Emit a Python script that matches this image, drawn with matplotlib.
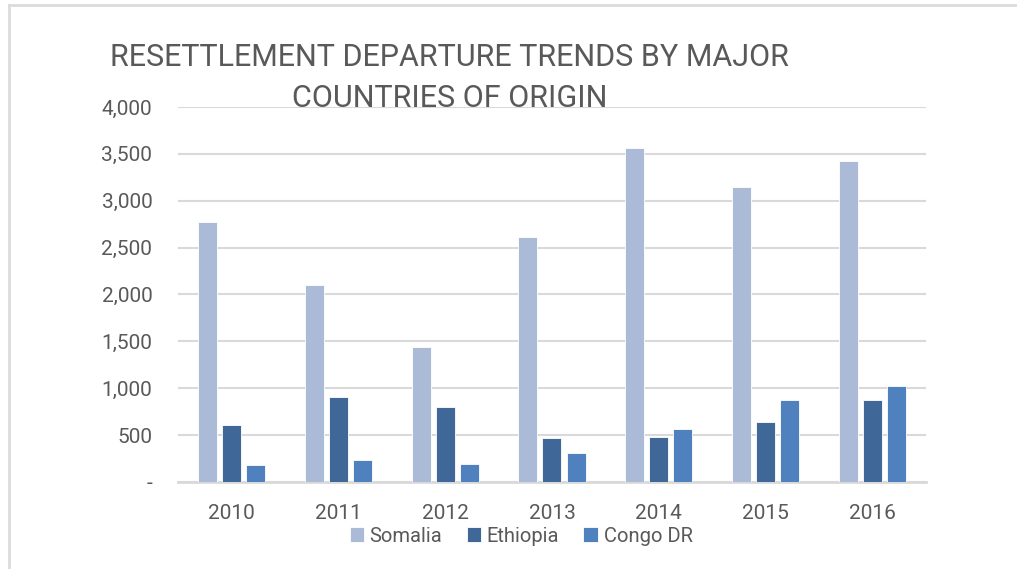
import matplotlib
matplotlib.use("Agg")
import matplotlib.pyplot as plt
import numpy as np
from matplotlib.ticker import FuncFormatter

# Resettlement departures by year and country of origin
years = ['2010', '2011', '2012', '2013', '2014', '2015', '2016']
somalia = [2777, 2101, 1440, 2613, 3563, 3143, 3427]
ethiopia = [606, 905, 803, 466, 480, 643, 871]
congo_dr = [178, 235, 192, 309, 562, 871, 1024]

series = ['Somalia', 'Ethiopia', 'Congo DR']
colors = ['#AABAD7', '#3F6899', '#4E81BD']

title_lines = ['RESETTLEMENT DEPARTURE TRENDS BY MAJOR', 'COUNTRIES OF ORIGIN']

plt.rcParams['font.family'] = ['Roboto', 'DejaVu Sans']
text_color = '#595959'
grid_color = '#D9D9D9'

fig = plt.figure(figsize=(10.17, 5.69), dpi=100)
ax = fig.add_axes([0.175, 0.153, 0.7355, 0.659])

x = np.arange(len(years))
width = 0.178
step = 0.225
for i, (name, vals) in enumerate(zip(series, [somalia, ethiopia, congo_dr])):
    ax.bar(x + (i - 1) * step, vals, width, color=colors[i], label=name,
           edgecolor='white', linewidth=0.6, zorder=3)

ax.set_xlim(-0.5, len(years) - 0.5)
ax.set_ylim(0, 4000)
ax.set_yticks(np.arange(0, 4001, 500))
ax.yaxis.set_major_formatter(FuncFormatter(lambda v, p: '-' if v == 0 else f'{v:,.0f}'))
ax.set_xticks(x)
ax.set_xticklabels(years)

ax.grid(axis='y', color=grid_color, linewidth=1.5, zorder=0)
for s in ['left', 'right', 'top']:
    ax.spines[s].set_visible(False)
ax.spines['bottom'].set_color(grid_color)
ax.spines['bottom'].set_linewidth(2)
ax.tick_params(axis='both', length=0, labelsize=15, colors=text_color)
ax.tick_params(axis='x', pad=16)
ax.tick_params(axis='y', pad=18.5)

ax.legend(loc='center', bbox_to_anchor=(521 / 1017, 1 - 536 / 569),
          bbox_transform=fig.transFigure, ncol=3, frameon=False,
          fontsize=14.5, labelcolor=text_color, handlelength=0.7,
          handleheight=0.7, handletextpad=0.3, columnspacing=1.2)

title_font = ['Roboto', 'DejaVu Sans']
fig.text(449 / 1017, 1 - 66 / 569, title_lines[0], ha='center', va='baseline',
         fontsize=22, color=text_color, family=title_font)
fig.text(450 / 1017, 1 - 107 / 569, title_lines[1], ha='center', va='baseline',
         fontsize=22, color=text_color, family=title_font)

# light frame at top and left of the screenshot
fig.add_artist(plt.Line2D([9 / 1017, 1], [1 - 5 / 569] * 2, color='#DCDCDC', linewidth=2))
fig.add_artist(plt.Line2D([9 / 1017] * 2, [0, 1 - 5 / 569], color='#DCDCDC', linewidth=2))

fig.savefig('out.png', dpi=100)
